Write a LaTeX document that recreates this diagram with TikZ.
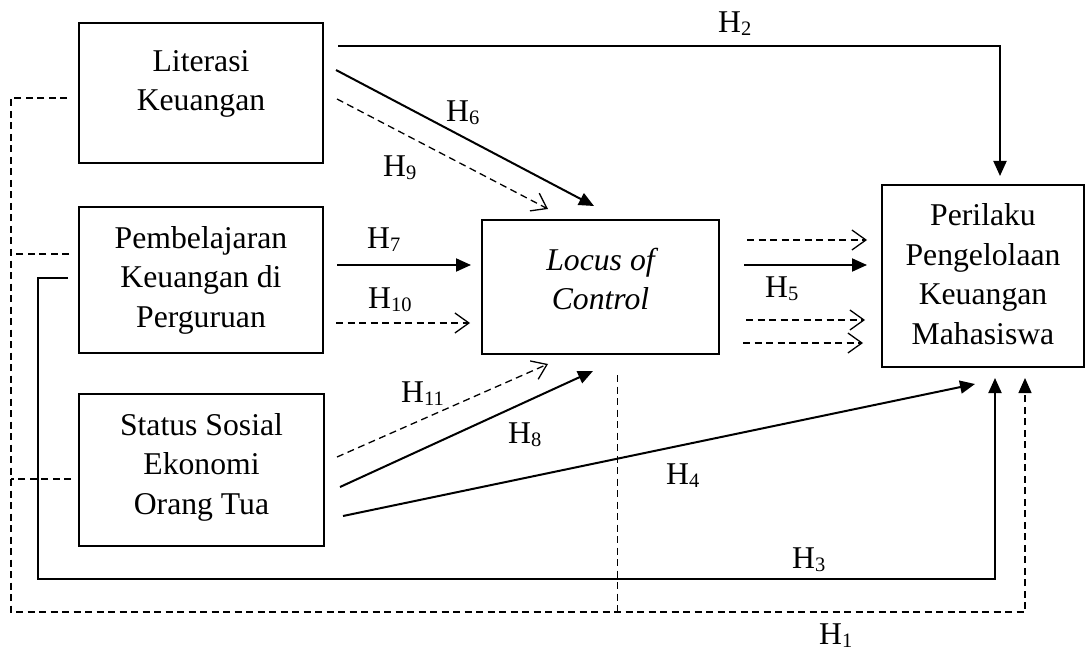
\documentclass[tikz,border=0pt]{standalone}
\usepackage{fontspec}
\setmainfont{Liberation Serif}
\usetikzlibrary{arrows.meta}
\newcommand\hsub[1]{H\raisebox{-3pt}{\fontsize{20.5}{20.5}\selectfont #1}}
\begin{document}
\begin{tikzpicture}[x=1pt,y=-1pt,
  box/.style={draw,line width=2pt,inner sep=0pt},
  boxtext/.style={font=\fontsize{31.7}{39.5}\selectfont,align=center,inner sep=0pt},
  hlab/.style={font=\fontsize{31.7}{39.5}\selectfont,anchor=base west,inner sep=0pt},
  sarrow/.style={line width=2pt,-{Triangle[length=15pt,width=13pt]}},
  darrow/.style={line width=1.3pt,dash pattern=on 7pt off 4.5pt,-{Straight Barb[length=14pt,width=20pt]}},
  dfarrow/.style={line width=1.3pt,dash pattern=on 7pt off 4.5pt,-{Triangle[length=15pt,width=13pt]}},
  dline/.style={line width=1.3pt,dash pattern=on 7pt off 4.5pt},
  sline/.style={line width=2pt}]
\useasboundingbox (0,0) rectangle (1086,652);

% boxes
\node[box,minimum width=244pt,minimum height=140pt,label={[boxtext,yshift=9pt]center:{Literasi\\Keuangan}}] (lit) at (201,93) {};
\node[box,minimum width=244pt,minimum height=146pt,label={[boxtext]center:{Pembelajaran\\Keuangan di\\Perguruan}}] (pem) at (201,280) {};
\node[box,minimum width=245pt,minimum height=152pt,label={[boxtext,yshift=3pt]center:{Status Sosial\\Ekonomi\\Orang Tua}}] (sta) at (201.5,470) {};
\node[box,minimum width=237pt,minimum height=134pt,label={[boxtext,yshift=8pt]center:{\itshape Locus of\\\itshape Control}}] (loc) at (600.5,287) {};
\node[box,minimum width=202pt,minimum height=182pt,label={[boxtext,yshift=2pt]center:{Perilaku\\Pengelolaan\\Keuangan\\Mahasiswa}}] (per) at (983,276) {};

% H2
\draw[sarrow] ([shift={(14,24)}]lit.north east) -| ([shift={(17,-8)}]per.north);
% H6, H9
\draw[sarrow] ([shift={(12,48)}]lit.north east) -- ([shift={(113,-13)}]loc.north west);
\draw[darrow] ([shift={(13,77)}]lit.north east) -- ([shift={(67,-10)}]loc.north west);
% H7, H10
\draw[sarrow] ([shift={(13,-15)}]pem.east) -- ([shift={(-10,-22)}]loc.west);
\draw[darrow] ([shift={(12,43)}]pem.east) -- ([shift={(-11,36)}]loc.west);
% H11, H8, H4
\draw[darrow] ([shift={(12,-13)}]sta.east) -- ([shift={(67,9)}]loc.south west);
\draw[sarrow] ([shift={(15,17)}]sta.east) -- ([shift={(112,16)}]loc.south west);
\draw[sarrow] ([shift={(18,46)}]sta.east) -- ([shift={(94,16)}]per.south west);
% H5 group
\draw[darrow] ([shift={(27,-47)}]loc.east) -- ([shift={(-14,-36)}]per.west);
\draw[sarrow] ([shift={(24,-22)}]loc.east) -- ([shift={(-14,-11)}]per.west);
\draw[darrow] ([shift={(26,33)}]loc.east) -- ([shift={(-16,44)}]per.west);
\draw[darrow] ([shift={(23,56)}]loc.east) -- ([shift={(-18,67)}]per.west);
% H3
\draw[sarrow] ([shift={(-10,-2)}]pem.west) -- ++(-30,0) -- ++(0,301) -| ([shift={(114,10)}]per.south west);
% H1
\draw[dfarrow] ([shift={(-11,5)}]lit.west) -- ++(-56,0) -- ++(0,514) -| ([shift={(144,10)}]per.south west);
\draw[dline] ([shift={(-9,-26)}]pem.west) -- ++(-58,0);
\draw[dline] ([shift={(-7,9)}]sta.west) -- ++(-60,0);
\draw[dline] ([shift={(17,20)}]loc.south) -- ++(0,238);

% labels
\node[hlab] (h2) at (718,33) {\hsub{2}};
\node[hlab] (h6) at (446,122) {\hsub{6}};
\node[hlab] (h9) at (383,177) {\hsub{9}};
\node[hlab] (h7) at (367,248) {\hsub{7}};
\node[hlab] (h10) at (368,308) {\hsub{10}};
\node[hlab] (h11) at (401,402) {\hsub{11}};
\node[hlab] (h8) at (508,443) {\hsub{8}};
\node[hlab] (h4) at (666,484) {\hsub{4}};
\node[hlab] (h5) at (765,297) {\hsub{5}};
\node[hlab] (h3) at (792,568) {\hsub{3}};
\node[hlab] (h1) at (819,644) {\hsub{1}};
\end{tikzpicture}
\end{document}
